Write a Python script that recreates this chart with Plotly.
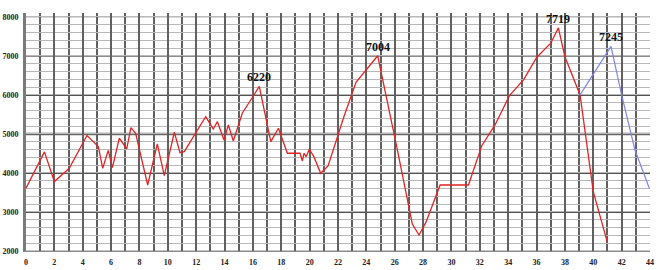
import plotly.graph_objects as go

# Red series (main path)
red_x = [0, 1.3, 2.0, 3.05, 4.3, 5.1, 5.41, 5.8, 6.09, 6.58, 7.1, 7.4, 7.73, 8.58, 9.26, 9.75,
         10.46, 10.86, 11.16, 12.67, 13.2, 13.5, 13.96, 14.27, 14.62, 15.25, 16.15, 16.45,
         17.26, 17.8, 18.43, 19.32, 19.49, 19.6, 19.75, 19.98, 20.3, 20.78, 21.3, 22.38,
         23.27, 24.8, 26.14, 27.24, 27.71, 28.19, 29.2, 31.2, 32.14, 33.07, 34.09, 35.08,
         36.02, 37.0, 37.54, 38.0, 39.07, 40.0, 41.0]
red_y = [3610, 4540, 3780, 4120, 4960, 4675, 4120, 4580, 4136, 4890, 4615, 5162, 5018, 3692, 4744, 3931,
         5043, 4521, 4546, 5444, 5128, 5315, 4846, 5231, 4820, 5530, 6043, 6220,
         4803, 5145, 4505, 4505, 4308, 4505, 4418, 4608, 4418, 3992, 4180, 5402,
         6326, 7004, 4675, 2692, 2410, 2726, 3692, 3692, 4700, 5231, 5982, 6385,
         6967, 7325, 7719, 6980, 6000, 3520, 2213]

# Blue series (projection)
blue_x = [39.07, 41.25, 42.0, 42.94, 43.95]
blue_y = [6000, 7245, 6000, 4590, 3608]

# Peak labels
peak_x = [16.45, 24.8, 37.54, 41.25]
peak_y = [6220, 7004, 7719, 7245]
peak_text = ["6220", "7004", "7719", "7245"]

x_ticks = list(range(0, 45, 2))
y_ticks = list(range(2000, 8001, 1000))
black_lines = [3000, 4000, 6000, 7000]
gray_thick_lines = [5000]
light_lines = [2000, 8000]

fig = go.Figure()
fig.add_trace(go.Scatter(x=red_x, y=red_y, mode="lines",
                         line=dict(color="#e02424", width=1.3), hoverinfo="skip"))
fig.add_trace(go.Scatter(x=blue_x, y=blue_y, mode="lines",
                         line=dict(color="#7f84ee", width=1.2), hoverinfo="skip"))

for px, py, t in zip(peak_x, peak_y, peak_text):
    fig.add_annotation(x=px, y=py, text="<b>%s</b>" % t, showarrow=False,
                       xanchor="center", yanchor="bottom", yshift=0,
                       font=dict(family="Liberation Serif", size=12, color="#111"))

for v in light_lines:
    fig.add_hline(y=v, line=dict(color="#b4b4b4", width=1.4), layer="below")
for v in black_lines:
    fig.add_hline(y=v, line=dict(color="#1a1a1a", width=1.4), layer="below")
for v in gray_thick_lines:
    fig.add_hline(y=v, line=dict(color="#666666", width=2.6), layer="below")

fig.update_layout(
    width=670, height=270,
    margin=dict(l=26, r=20, t=13, b=19, autoexpand=False),
    paper_bgcolor="white", plot_bgcolor="white",
    showlegend=False,
    xaxis=dict(range=[0, 44], tickvals=x_ticks, ticktext=[str(v) for v in x_ticks],
               automargin=False,
               showgrid=True, gridcolor="#606060", gridwidth=1.6,
               minor=dict(dtick=1, showgrid=True, gridcolor="#606060", gridwidth=1.6),
               zeroline=False, showline=True, linecolor="#8a8a8a", linewidth=1,
               ticks="", ticklabelstandoff=3,
               tickfont=dict(family="Liberation Serif", size=8, color="#222", weight="bold")),
    yaxis=dict(range=[2000, 8100], tickvals=y_ticks, ticktext=[str(v) for v in y_ticks],
               automargin=False,
               showgrid=False,
               minor=dict(dtick=200, showgrid=True, gridcolor="#b8b8b8", gridwidth=1.4),
               zeroline=False, showline=True, linecolor="#7a7a7a", linewidth=3,
               ticks="", ticklabelstandoff=3,
               tickfont=dict(family="Liberation Serif", size=8, color="#222", weight="bold")),
)

fig.write_html("out.html")
